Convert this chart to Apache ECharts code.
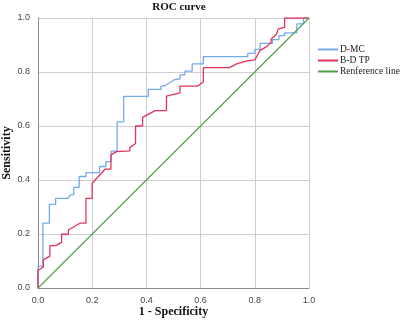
<!DOCTYPE html>
<html>
<head>
<meta charset="utf-8">
<script src="https://cdn.jsdelivr.net/npm/echarts@6/dist/echarts.min.js"></script>
<style>
  html, body { margin: 0; padding: 0; background: #fff; }
  #chart { width: 400px; height: 327px; }
</style>
</head>
<body>
<div id="chart"></div>
<script>
// ROC points: [1 - specificity, sensitivity]
const dmcPoints = [
  [0, 0], [0, 0.08], [0.018, 0.08], [0.018, 0.24], [0.042, 0.24], [0.042, 0.31],
  [0.065, 0.31], [0.065, 0.332], [0.11, 0.332], [0.12, 0.345], [0.132, 0.345],
  [0.132, 0.373], [0.152, 0.373], [0.152, 0.413], [0.177, 0.413], [0.177, 0.427],
  [0.227, 0.427], [0.227, 0.45], [0.25, 0.45], [0.25, 0.468], [0.27, 0.468],
  [0.27, 0.507], [0.292, 0.507], [0.292, 0.615], [0.316, 0.615], [0.316, 0.71],
  [0.407, 0.71], [0.407, 0.736], [0.454, 0.736], [0.454, 0.748], [0.47, 0.75],
  [0.505, 0.772], [0.524, 0.775], [0.524, 0.789], [0.542, 0.789], [0.542, 0.803],
  [0.569, 0.803], [0.569, 0.83], [0.61, 0.83], [0.61, 0.857], [0.774, 0.857],
  [0.774, 0.869], [0.8, 0.869], [0.8, 0.884], [0.82, 0.884], [0.82, 0.906],
  [0.865, 0.906], [0.865, 0.92], [0.889, 0.92], [0.889, 0.935], [0.91, 0.935],
  [0.91, 0.945], [0.955, 0.945], [0.955, 0.978], [0.98, 0.978], [0.98, 1], [1, 1]
];
const bdtpPoints = [
  [0, 0], [0, 0.065], [0.02, 0.078], [0.02, 0.105], [0.044, 0.118], [0.044, 0.157],
  [0.066, 0.157], [0.087, 0.169], [0.087, 0.199], [0.112, 0.199], [0.112, 0.215],
  [0.155, 0.24], [0.177, 0.24], [0.177, 0.332], [0.2, 0.332], [0.2, 0.388],
  [0.247, 0.44], [0.269, 0.44], [0.269, 0.493], [0.29, 0.505], [0.339, 0.508],
  [0.339, 0.52], [0.36, 0.535], [0.36, 0.6], [0.386, 0.6], [0.386, 0.632],
  [0.432, 0.657], [0.474, 0.657], [0.474, 0.711], [0.524, 0.723], [0.524, 0.748],
  [0.59, 0.748], [0.61, 0.764], [0.61, 0.816], [0.706, 0.816], [0.733, 0.83],
  [0.776, 0.842], [0.8, 0.845], [0.82, 0.88], [0.845, 0.895], [0.86, 0.91],
  [0.86, 0.922], [0.88, 0.94], [0.887, 0.945], [0.887, 0.96], [0.91, 0.965],
  [0.91, 1], [1, 1]
];
const refPoints = [[0, 0], [1, 1]];
const seriesNames = ['D-MC', 'B-D TP', 'Renference line'];
const seriesColors = ['#74aaf0', '#e3335c', '#4f9f47'];

const serif = '"Liberation Serif", "DejaVu Serif", serif';
const sans = '"Liberation Sans", Arial, sans-serif';

const chart = echarts.init(document.getElementById('chart'));

const axisCommon = {
  type: 'value',
  min: 0,
  max: 1,
  interval: 0.2,
  nameLocation: 'middle',
  nameMoveOverlap: false,
  nameTextStyle: { fontFamily: serif, fontWeight: 'bold', fontSize: 12, color: '#111' },
  axisLine: { show: true, lineStyle: { color: '#8a8a8a', width: 1 } },
  axisTick: { show: false },
  axisLabel: {
    fontFamily: sans, fontSize: 9, color: '#444',
    formatter: v => v.toFixed(1)
  },
  splitLine: { show: true, lineStyle: { color: '#cfcfcf', width: 1 } }
};

chart.setOption({
  animation: false,
  backgroundColor: '#fff',
  title: {
    text: 'ROC curve',
    left: 174,
    top: -3,
    textAlign: 'center',
    textStyle: { fontFamily: serif, fontWeight: 'bold', fontSize: 11, color: '#111' }
  },
  legend: {
    orient: 'vertical',
    left: 313,
    top: 39,
    itemWidth: 20,
    itemHeight: 2,
    itemGap: 0,
    icon: 'rect',
    data: seriesNames,
    textStyle: { fontFamily: serif, fontSize: 9.5, color: '#222', padding: [0, 0, 0, -3], lineHeight: 11 }
  },
  grid: { left: 38, right: 91, top: 18, bottom: 39, outerBoundsMode: 'none' },
  xAxis: Object.assign({}, axisCommon, { name: '1 - Specificity', nameGap: 18 }),
  yAxis: Object.assign({}, axisCommon, { name: 'Sensitivity', nameGap: 25 }),
  series: [
    { name: seriesNames[0], type: 'line', data: dmcPoints, symbol: 'none',
      color: seriesColors[0], lineStyle: { width: 1.3 } },
    { name: seriesNames[1], type: 'line', data: bdtpPoints, symbol: 'none',
      color: seriesColors[1], lineStyle: { width: 1.3 } },
    { name: seriesNames[2], type: 'line', data: refPoints, symbol: 'none',
      color: seriesColors[2], lineStyle: { width: 1.1 } }
  ]
});
</script>
</body>
</html>
